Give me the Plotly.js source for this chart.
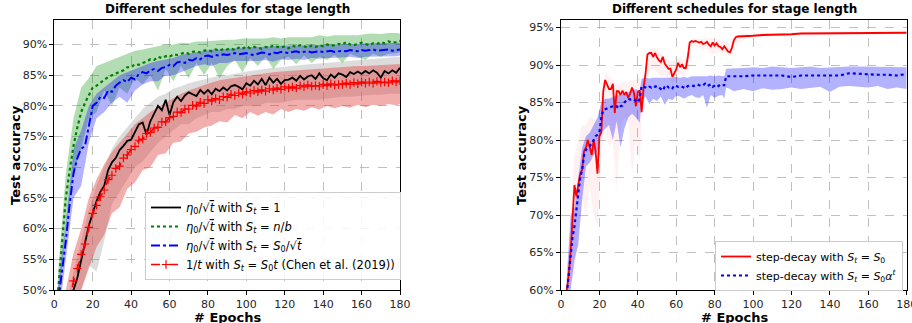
<!DOCTYPE html>
<html>
<head>
<meta charset="utf-8">
<script src="https://cdn.plot.ly/plotly-3.0.1.min.js"></script>
<style>html,body{margin:0;padding:0;background:#fff;}#chart{width:912px;height:323px;}</style>
</head>
<body>
<div id="chart"></div>
<script>
// ---------- DATA (test accuracy in %) ----------
const TITLE = 'Different schedules for stage length';
const X_LABEL = '# Epochs';
const Y_LABEL = 'Test accuracy';

// Left panel: epochs for lines
const L_EP = [2,4,6,8,10,12,14,16,18,20, 22,24,26,28,30,32,34,36,38,40, 42,44,46,48,50,52,54,56,58,60,
  62,64,66,68,70,72,74,76,78,80, 82,84,86,88,90,92,94,96,98,100, 102,104,106,108,110,112,114,116,118,120,
  122,124,126,128,130,132,134,136,138,140, 142,144,146,148,150,152,154,156,158,160, 162,164,166,168,170,172,174,176,178,180];

const L_NAMES = [
  '<i>η</i><sub>0</sub>/√<span style="text-decoration:overline"><i>t</i></span> with <i>S<sub>t</sub></i> = 1',
  '<i>η</i><sub>0</sub>/√<span style="text-decoration:overline"><i>t</i></span> with <i>S<sub>t</sub></i> = <i>n</i>/<i>b</i>',
  '<i>η</i><sub>0</sub>/√<span style="text-decoration:overline"><i>t</i></span> with <i>S<sub>t</sub></i> = <i>S</i><sub>0</sub>/√<span style="text-decoration:overline"><i>t</i></span>',
  '1/<i>t</i> with <i>S<sub>t</sub></i> = <i>S</i><sub>0</sub><i>t</i> (Chen et al. (2019))'
];

const BLACK_ACC = [38,41,44,47,50,52,55,57.5,60.5,62.5, 64.5,66,67,69.5,70.8,71.5,72.8,73.5,74.3,74.5,
  75.8,77,77.3,75.3,77.5,78.7,80,79.3,81,78.5, 80.6,81.5,80.8,81.7,82.2,81.9,81.6,82.6,82,82.6,
  81.9,82.8,82.4,83,82.5,83.2,83.4,83.1,82.7,83.7, 83.3,84.1,83.5,84.4,83.4,84.6,83.8,84.4,83.6,84.2,
  84.3,84.6,84.1,84.9,84.3,84.8,85,84.4,85.3,84.5, 84.2,85.1,84.6,85.3,85.1,84.7,85.5,85.2,85.6,85.2,
  85.7,85.3,85.8,85.4,84.6,85.7,85.3,85.8,85.4,86.2];
const GREEN_ACC = [50,58,65,69.5,73.5,76.5,79,80.5,81.8,83, 83.3,83.8,84.3,84.7,85,85.3,85.5,85.8,86.3,86.3,
  86.8,86.7,87,87.2,87.6,87.5,88,87.8,88.1,88, 88.4,88.3,88.5,88.7,88.5,88.8,88.9,88.7,89,89.1,
  88.9,89.2,89,89.3,89.2,89.4,89.1,89.5,89.3,89.7, 89.4,89.6,89.5,89.3,89.6,89.5,89.8,89.6,89.5,89.7,
  89.4,89.8,89.6,89.9,89.7,89.5,89.8,89.6,89.9,89.7, 90,89.8,89.9,90.1,90,90.4,90,89.9,90.1,90.3,
  90.1,89.9,90.2,90.1,90.4,90.2,90.5,90.3,90.4,90.6];
const BLUE_ACC = [48,53,58,64,69,71.5,73,73.5,77,80, 80.5,81.5,81.3,82.5,82.3,83.3,83.8,84.2,83.9,84.6,
  84.3,85.2,85.5,85.3,85.8,86,85.7,86.2,86.3,86.7, 86.5,87.1,87.2,87,87.5,87.4,87.8,87.6,88.1,88.2,
  88,88.3,88.2,88.4,88.3,88.4,88.6,88.4,88.5,88.6, 88.4,88.3,88.5,88.7,88.6,88.4,88.7,88.6,88.8,88.7,
  88.6,88.8,88.9,88.7,88.8,88.9,88.7,88.8,88.9,88.8, 88.9,89,88.8,88.9,89,88.9,89.1,89,88.9,89.1,
  89,89.1,89.2,89,89.1,89.1,89.2,89,89.1,89.2];
const RED_ACC = [42,44,46,48,51.5,53.5,55.8,57.5,60.2,62.5, 63.8,65.2,66.3,68,68.7,69.8,70.2,71.5,72,72.9,
  73.4,74.4,74.6,75.5,75.7,76.4,76.5,77.4,77.4,78.1, 78.3,79,78.9,79.5,79.5,80.1,80,80.6,80.4,81,
  80.8,81.2,81,81.5,81.4,81.9,81.7,82.1,81.9,82.3, 82.1,82.5,82.3,82.6,82.4,82.8,82.6,82.9,82.7,83.1,
  82.9,83.1,82.9,83.3,83.1,83.4,83.2,83.3,83.2,83.5, 83.3,83.6,83.4,83.5,83.5,83.7,83.5,83.8,83.6,83.9,
  83.7,83.9,83.7,84,83.8,83.9,83.8,84.1,83.9,84.1];

// Left panel: epochs for shaded bands
const L_BAND_EP = [2,6,10,14,18,22,26,30,34,38, 42,46,50,54,58,62,66,70,74,78, 82,86,90,94,98,102,106,110,114,118,
  122,126,130,134,138,142,146,150,154,158, 162,166,170,174,178,180];
const GRAY_HI = [41,47,53,58,63,67,70,73,75,76.5, 78,79.5,80.5,81.5,82,82.8,83.2,83.7,84,84.3,
  84.6,84.9,85,85.3,85.5,85.7,85.9,86,86.2,86.3, 86.5,86.6,86.7,86.8,87,87.1,87.2,87.3,87.4,87.5, 87.6,87.7,87.8,87.9,88,88];
const GRAY_LO = [35,40,47,50,54,53,58,64,66,68, 70,71,72.5,74,75,76,77,77,78,78.5,
  79,79,79.5,79.5,80,80,80,80.5,80.5,80.5, 80.8,81,81,81,81,81.2,81.4,81.5,81.5,81.6, 81.8,81.8,81.8,82,82,82];
const GREEN_HI = [53,69,78,83,84.5,86.5,87,87.5,88,88.5, 89,89.2,89.5,89.7,90,90,90.3,90.2,90.5,90.5,
  90.6,90.8,90.8,90.8,91,91,91,91,91.2,91, 91.2,91.2,91.3,91.2,91.5,91.3,91.5,91.5,91.6,91.5, 91.7,91.8,91.7,91.9,91.9,91.8];
const GREEN_LO = [47,60,69,73,78,79,82.5,80,83,82, 84.5,83.5,85,82.5,86,84,86.5,84.5,87,85,
  87,84.5,86.5,87.5,85.5,87.8,86.5,88,86,87.5, 88,86.8,88.2,87,88,87.5,88.3,87,88.5,88, 87.5,88.5,88,88.5,88.6,88.8];
const BLUE_HI = [51,61,73,76,80,82,83,84,85,85.5, 86,86.5,87,87.3,87.6,87.8,88.3,88.5,88.8,89,
  89.2,89.2,89.3,89.5,89.5,89.6,89.6,89.7,89.7,89.8, 89.8,89.9,89.9,89.9,90,90,90,90.1,90.1,90.1, 90.2,90.2,90.2,90.3,90.3,90.3];
const BLUE_LO = [45,55,65,67,74,78,79,80.5,81.5,80.5, 82.5,83.5,84,84,85,85,85.5,86,86.5,86.8,
  86.5,87,87,87.3,87.3,87.3,87.3,87.5,87.2,87.6, 87.5,87.7,87.5,87.8,87.7,87.8,87.8,87.9,88,87.8, 88,88,88,88.1,88.1,88.2];
const RED_HI = [46,50,56,60,65,68,70.5,72.5,74,75.5, 77,78,79,79.8,80.5,81.3,82,82.5,83,83.4,
  83.8,84.2,84.4,84.6,84.8,85,85.2,85.3,85.5,85.6, 85.7,85.8,85.9,86,86.1,86.2,86.3,86.3,86.4,86.5, 86.5,86.6,86.7,86.7,86.8,86.8];
const RED_LO = [38,42,47,50,53.5,57,59,62.5,63.5,66.5, 67.5,69.5,70,72,72.3,74,74.2,75.5,75.8,76.5,
  76.8,77.5,77.3,78.5,78,79,78.4,79,78.6,79.5, 79,79.5,79.2,79.8,79.4,80,79.6,80,79.7,80.2, 79.8,80.2,80,80.3,80.1,80.3];

// Right panel
const R_NAMES = [
  'step-decay with <i>S<sub>t</sub></i> = <i>S</i><sub>0</sub>',
  'step-decay with <i>S<sub>t</sub></i> = <i>S</i><sub>0</sub><i>α</i><sup><i>t</i></sup>'
];
const R_EP = [3,4,5,6,7,8,9,10,11,12, 13,14,15,16,17,18,19,20,21,22, 23,24,25,26,27,28,29,30,31,32,
  33,34,35,36,37,38,39,40,41,42, 43,44,45,46,47,48,49,50,51,52, 53,54,55,56,57,58,59,60,61,62,
  63,64,65,66,67,68,69,70,71,72, 73,74,75,76,77,78,79,80,81,82, 83,84,85,86,87,88,89,90,91,92,
  93,94,95, 100,105,110,115,120,125,130,135,140,145,150,155,160,165,170,175,180];
const STEP_ACC = [60,62,65,69,74,72.5,74,75.5,76,78.5, 79,80,79,78,80,78.5,75.5,80.5,81,86.5,
  88,87.5,86.8,86.8,87.5,83.6,86.5,86.5,86,86.6, 86,86.4,85.6,86.2,87,86.3,84.5,86.4,86.6,83.7,
  87,88.8,91.4,91.6,91.6,91.1,91.6,91,90.6,90.4, 91.1,90.2,89.8,89.5,89.5,88.4,88.9,89.4,90.3,89.7,
  90.1,89.6,89.6,91,93,93.2,93.1,93.2,93.1,93, 93.1,92.8,92.9,93.1,92.7,92.5,93,92.6,92.9,92.5,
  92.4,92.1,92.5,92.2,91.8,91.7,92.3,93.3,93.7,93.8, 93.8,93.8,93.8,
  93.9,94,94,94.1,94.1,94.2,94.2,94.2,94.2,94.3,94.2,94.3,94.3,94.3,94.3,94.3,94.3];
const STEPA_ACC = [59.5,62,65,67,68.5,70.5,72.5,75,76,78, 78.7,79,79.3,79.5,80,80.5,80.7,81,83,84,
  84.1,84.2,84.3,84.4,84.4,84.6,84.5,84.2,84.5,84.6, 85,85.2,85.5,85.4,85.5,85.4,85.2,85,85.5,87.2,
  87.1,87,86.9,87.1,87,87.2,87.1,87.2,87,86.8, 86.6,87.1,87.3,87,87.1,86.9,87.3,87.2,87.1,87.2,
  87.1,87,86.9,87.2,87.3,87.3,87.2,87.3,87.4,87.3, 87.2,87.3,87.5,87.2,87.3,87.4,87.1,87.3,87.4,87.2,
  87.4,87.3,87.3,88.5,88.5,88.5,88.4,88.5,88.5,88.5, 88.5,88.5,88.5,
  88.6,88.6,88.7,88.6,88.4,88.6,88.6,88.6,88.7,88.6,88.9,88.8,88.7,88.7,88.7,88.6,88.8];

const R_BAND_EP = [3,5,7,9,11,13,15,17,19,21, 23,25,27,29,31,33,35,37,39,41, 42,44,46,48,50,52,54,56,58,60,
  62,64,66,68,70,72,74,76,78,80, 82,84,85,86,88,90,95,100,105,110, 115,120,125,130,135,140,145,150,155,160, 165,170,175,180];
const PINK_HI = [62,69,78,80,82,82,83,83,82,86, 89,88.5,88,87.5,87.5,87.8,87.8,88,88,88.5,
  87.5,89,92,92.3,92.2,91.5,91,90.5,90.5,91, 91,90.5,92,93.5,93.5,93.5,93.4,93.5,93.6,93.5,
  93.4,93.3,93.2,93,92.8,93.8,94.1,94.2,94.2,94.3, 94.3,94.3,94.4,94.4,94.4,94.4,94.5,94.4,94.5,94.5, 94.5,94.5,94.5,94.5];
const PINK_LO = [58,61,62,68,72,70,74,70,68.5,78, 82,79,80,73.5,82,83,82.5,75.5,80,77,
  83,86.5,89,89.5,89,88.5,88.5,88.2,87.5,88, 89,88.5,89.5,92.5,92.5,92.3,92,92.3,91.5,91.5,
  91.8,91.5,91.6,91.5,91.2,92.5,93.4,93.7,93.8,93.8, 93.9,93.9,94,94,94,94,94.1,94,94.1,94.1, 94.1,94.1,94.1,94.1];
const BLUEB_HI = [61.5,70,71,75,79,80.5,81,82,83,85, 85.5,85.5,85.8,86,86,86.2,86.5,86.7,86.8,86.5,
  88.2,88.3,88.2,88.3,88.3,88.2,88.3,88.2,88.3,88.4, 88.3,88.4,88.3,88.5,88.5,88.4,88.5,88.5,88.6,88.5,
  88.6,88.6,88.5,89.5,89.5,89.6,89.6,89.7,89.6,89.8, 89.7,89.6,89.7,89.8,89.6,89.7,89.8,89.8,89.8,89.8, 89.7,89.7,89.8,89.7];
const BLUEB_LO = [57,60,64,66,72,76.5,77,78,78.5,81, 81.5,82,80,82.5,79,81.5,83,83.5,83,82.3,
  85,85.8,84.8,85.5,85.2,85.8,84.7,85.5,85.3,85.9, 85.8,85.5,85.8,86,85.7,85.6,86,84.3,86,85.6,
  85.9,86,85.5,87,86.8,86.5,86.8,86.5,86.9,86.7, 86.8,87,86.8,86.9,87.1,86.4,87.1,87.2,87.1,87, 87.2,86.8,87,86.8];

const L_YTICKS = [50,55,60,65,70,75,80,85,90];
const L_YTICK_TEXT = ['50%','55%','60%','65%','70%','75%','80%','85%','90%'];
const R_YTICKS = [60,65,70,75,80,85,90,95];
const R_YTICK_TEXT = ['60%','65%','70%','75%','80%','85%','90%','95%'];
const XTICKS = [0,20,40,60,80,100,120,140,160,180];
const XTICK_TEXT = ['0','20','40','60','80','100','120','140','160','180'];

// ---------- BUILD ----------
function band(x, lo, hi, color, xa, ya) {
  return [
    {x: x, y: lo, xaxis: xa, yaxis: ya, type: 'scatter', mode: 'lines', line: {width: 0, color: color}, showlegend: false, hoverinfo: 'skip'},
    {x: x, y: hi, xaxis: xa, yaxis: ya, type: 'scatter', mode: 'lines', line: {width: 0, color: color}, fill: 'tonexty', fillcolor: color, showlegend: false, hoverinfo: 'skip'}
  ];
}

const traces = [].concat(
  band(L_BAND_EP, GRAY_LO, GRAY_HI, 'rgba(128,128,128,0.28)', 'x', 'y'),
  band(L_BAND_EP, GREEN_LO, GREEN_HI, 'rgba(0,140,0,0.30)', 'x', 'y'),
  band(L_BAND_EP, RED_LO, RED_HI, 'rgba(225,60,60,0.42)', 'x', 'y'),
  band(L_BAND_EP, BLUE_LO, BLUE_HI, 'rgba(0,0,255,0.30)', 'x', 'y'),
  band(R_BAND_EP, PINK_LO, PINK_HI, 'rgba(255,80,80,0.08)', 'x2', 'y2'),
  band(R_BAND_EP, BLUEB_LO, BLUEB_HI, 'rgba(0,0,255,0.30)', 'x2', 'y2'),
  [
    {x: L_EP, y: BLACK_ACC, name: L_NAMES[0], legendgroup: 'a', xaxis: 'x', yaxis: 'y', mode: 'lines', line: {color: '#000000', width: 1.8}, legend: 'legend'},
    {x: L_EP, y: GREEN_ACC, name: L_NAMES[1], legendgroup: 'b', xaxis: 'x', yaxis: 'y', mode: 'lines', line: {color: '#008000', width: 2.2, dash: 'dot'}, legend: 'legend'},
    {x: L_EP, y: BLUE_ACC, name: L_NAMES[2], legendgroup: 'c', xaxis: 'x', yaxis: 'y', mode: 'lines', line: {color: '#0000ff', width: 2, dash: 'dashdot'}, legend: 'legend'},
    {x: L_EP, y: RED_ACC, name: L_NAMES[3], legendgroup: 'd', xaxis: 'x', yaxis: 'y', mode: 'lines+markers', line: {color: '#ff0000', width: 1.6, dash: 'dash'},
      marker: {symbol: 'cross-thin', size: 6, color: '#ff0000', line: {width: 1.2, color: '#ff0000'}}, legend: 'legend'},
    {x: R_EP, y: STEP_ACC, name: R_NAMES[0], legendgroup: 'e', xaxis: 'x2', yaxis: 'y2', mode: 'lines', line: {color: '#ff0000', width: 1.8}, legend: 'legend2'},
    {x: R_EP, y: STEPA_ACC, name: R_NAMES[1], legendgroup: 'f', xaxis: 'x2', yaxis: 'y2', mode: 'lines', line: {color: '#0000ff', width: 2.2, dash: 'dot'}, legend: 'legend2'}
  ]
);

const tickFont = {family: 'DejaVu Sans', size: 11, color: '#262626'};
const axBase = {
  showline: true, mirror: true, linecolor: '#000', linewidth: 1,
  ticks: 'outside', ticklen: 4, tickcolor: '#000', tickwidth: 1,
  showgrid: true, gridcolor: '#b0b0b0', griddash: 'dash', gridwidth: 0.8,
  zeroline: false, tickfont: tickFont, fixedrange: true, tickmode: 'array', ticklabeloverflow: 'allow'
};

const PT = 20, PB = 33, H = 323;
const PH = H - PT - PB;
function py(pix) { return (H - PB - pix) / PH; }

const layout = {
  width: 912, height: 323,
  margin: {l: 0, r: 0, t: PT, b: PB, pad: 0},
  paper_bgcolor: '#fff', plot_bgcolor: '#fff',
  font: {family: 'DejaVu Sans', size: 11, color: '#000'},
  xaxis: Object.assign({}, axBase, {domain: [54.3/912, 400/912], range: [0, 180], tickvals: XTICKS, ticktext: XTICK_TEXT, anchor: 'y'}),
  yaxis: Object.assign({}, axBase, {domain: [0, 1], range: [50, 94], tickvals: L_YTICKS, ticktext: L_YTICK_TEXT, anchor: 'x'}),
  xaxis2: Object.assign({}, axBase, {domain: [561/912, 906.7/912], range: [0, 180], tickvals: XTICKS, ticktext: XTICK_TEXT, anchor: 'y2'}),
  yaxis2: Object.assign({}, axBase, {domain: [0, 1], range: [60, 96], tickvals: R_YTICKS, ticktext: R_YTICK_TEXT, anchor: 'x2'}),
  showlegend: true,
  legend: {x: 145/912, y: py(192), xanchor: 'left', yanchor: 'top', bgcolor: 'rgba(255,255,255,0.85)', traceorder: 'normal',
    bordercolor: '#cccccc', borderwidth: 1, font: {family: 'DejaVu Sans', size: 11.5, color: '#000'}, tracegroupgap: 2},
  legend2: {x: 715/912, y: py(241), xanchor: 'left', yanchor: 'top', bgcolor: 'rgba(255,255,255,0.85)', traceorder: 'normal',
    bordercolor: '#cccccc', borderwidth: 1, font: {family: 'DejaVu Sans', size: 11, color: '#000'}, tracegroupgap: 0},
  annotations: [
    {text: '<b>' + TITLE + '</b>', xref: 'paper', yref: 'paper', x: 227/912, y: py(9), xanchor: 'center', yanchor: 'middle', showarrow: false, font: {family: 'DejaVu Sans', size: 12, color: '#000'}},
    {text: '<b>' + TITLE + '</b>', xref: 'paper', yref: 'paper', x: 734/912, y: py(9), xanchor: 'center', yanchor: 'middle', showarrow: false, font: {family: 'DejaVu Sans', size: 12, color: '#000'}},
    {text: '<b>' + Y_LABEL + '</b>', xref: 'paper', yref: 'paper', x: 15/912, y: py(155), xanchor: 'center', yanchor: 'middle', textangle: -90, showarrow: false, font: {family: 'DejaVu Sans', size: 13, color: '#000'}},
    {text: '<b>' + Y_LABEL + '</b>', xref: 'paper', yref: 'paper', x: 521/912, y: py(155), xanchor: 'center', yanchor: 'middle', textangle: -90, showarrow: false, font: {family: 'DejaVu Sans', size: 13, color: '#000'}},
    {text: '<b>' + X_LABEL + '</b>', xref: 'paper', yref: 'paper', x: 227/912, y: py(317), xanchor: 'center', yanchor: 'middle', showarrow: false, font: {family: 'DejaVu Sans', size: 13, color: '#000'}},
    {text: '<b>' + X_LABEL + '</b>', xref: 'paper', yref: 'paper', x: 734/912, y: py(317), xanchor: 'center', yanchor: 'middle', showarrow: false, font: {family: 'DejaVu Sans', size: 13, color: '#000'}}
  ]
};

Plotly.newPlot('chart', traces, layout, {staticPlot: true, displayModeBar: false});
</script>
</body>
</html>
